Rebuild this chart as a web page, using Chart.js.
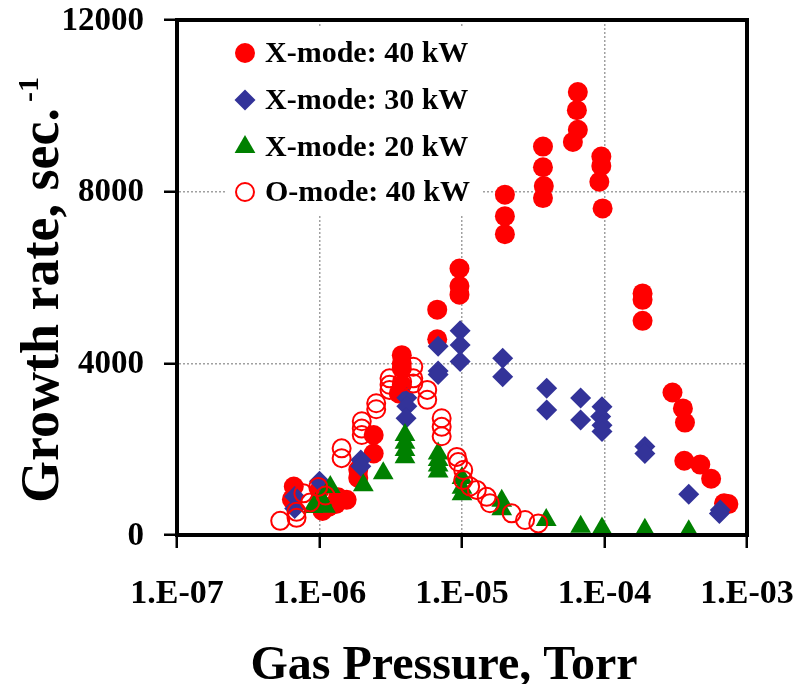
<!DOCTYPE html>
<html>
<head>
<meta charset="utf-8">
<script src="https://cdn.jsdelivr.net/npm/chart.js@4"></script>
<style>
  html, body { margin: 0; padding: 0; background: #fff; }
  #wrap { width: 796px; height: 684px; }
</style>
</head>
<body>
<div id="wrap"><canvas id="growthChart" width="796" height="684"></canvas></div>
<script>
// axis ticks
const xTicks = [1e-7, 1e-6, 1e-5, 1e-4, 1e-3];
const xTickLabels = ['1.E-07', '1.E-06', '1.E-05', '1.E-04', '1.E-03'];
const yTicks = [0, 4000, 8000, 12000];
const yTickLabels = ['0', '4000', '8000', '12000'];

const seriesNames = ['X-mode: 40 kW', 'X-mode: 30 kW', 'X-mode: 20 kW', 'O-mode: 40 kW'];

// X-mode 40 kW
const x40Pressure = [6.6e-7, 6.4e-7, 1.0e-6, 1.05e-6, 1.15e-6, 1.3e-6, 1.35e-6, 1.55e-6, 1.87e-6, 1.87e-6,
  2.4e-6, 2.4e-6, 3.78e-6, 3.78e-6, 3.78e-6, 3.78e-6, 3.6e-6, 6.7e-6, 6.7e-6, 9.6e-6, 9.6e-6, 9.6e-6,
  2.0e-5, 2.0e-5, 2.0e-5, 3.7e-5, 3.7e-5, 3.75e-5, 3.7e-5, 6.5e-5, 6.4e-5, 6.5e-5, 6.0e-5,
  9.5e-5, 9.5e-5, 9.2e-5, 9.7e-5, 1.85e-4, 1.85e-4, 1.85e-4, 3.0e-4, 3.55e-4, 3.67e-4,
  3.63e-4, 4.7e-4, 5.6e-4, 6.9e-4, 7.4e-4];
const x40Rate = [1130, 830, 1050, 560, 650, 720, 880, 820, 1520, 1330,
  2330, 1900, 4190, 4000, 3880, 3500, 3300, 5250, 4560, 6210, 5800, 5600,
  7930, 7430, 7010, 9050, 8570, 8130, 7850, 10320, 9900, 9440, 9160,
  8820, 8600, 8230, 7610, 5630, 5480, 4990, 3320, 2950, 2620,
  1730, 1640, 1310, 740, 720];

// X-mode 30 kW
const x30Pressure = [6.7e-7, 6.7e-7, 1.0e-6, 1.95e-6, 1.95e-6, 4.1e-6, 4.1e-6, 4.05e-6, 6.8e-6, 6.8e-6, 6.8e-6,
  9.7e-6, 9.7e-6, 9.7e-6, 1.93e-5, 1.93e-5, 3.93e-5, 3.93e-5, 6.8e-5, 6.8e-5,
  9.6e-5, 9.4e-5, 9.6e-5, 9.6e-5, 1.92e-4, 1.92e-4, 3.9e-4, 6.5e-4, 6.4e-4];
const x30Rate = [900, 620, 1250, 1750, 1600, 3200, 3000, 2720, 4400, 3820, 3740,
  4760, 4430, 4040, 4120, 3690, 3420, 2910, 3190, 2680,
  2990, 2760, 2560, 2410, 2060, 1900, 950, 580, 500];

// X-mode 20 kW
const x20Pressure = [9.5e-7, 9.0e-7, 1.04e-6, 1.1e-6, 1.19e-6, 2.03e-6, 2.8e-6, 3.98e-6, 3.98e-6, 3.98e-6, 3.98e-6,
  6.8e-6, 6.8e-6, 6.8e-6, 6.8e-6, 1.0e-5, 1.0e-5, 1.0e-5, 1.9e-5, 1.9e-5, 3.9e-5, 6.8e-5, 9.6e-5, 1.92e-4, 3.9e-4];
const x20Rate = [740, 650, 820, 660, 1120, 1160, 1440, 2330, 2150, 1980, 1810,
  1900, 1750, 1620, 1480, 1330, 1100, 950, 800, 600, 350, 190, 150, 120, 90];

// O-mode 40 kW
const o40Pressure = [5.3e-7, 6.9e-7, 6.9e-7, 7.7e-7, 8.6e-7, 9.8e-7, 1.1e-6, 1.43e-6, 1.43e-6,
  1.98e-6, 1.98e-6, 1.98e-6, 2.5e-6, 2.5e-6, 3.1e-6, 3.1e-6, 3.1e-6, 3.8e-6, 4.55e-6, 4.55e-6, 4.55e-6,
  5.7e-6, 5.7e-6, 7.2e-6, 7.2e-6, 7.2e-6, 9.2e-6, 9.4e-6, 1.02e-5, 1.02e-5, 1.14e-5, 1.27e-5,
  1.49e-5, 1.57e-5, 2.23e-5, 2.77e-5, 3.43e-5];
const o40Rate = [330, 540, 400, 970, 760, 1120, 920, 2020, 1790,
  2650, 2480, 2330, 3070, 2930, 3650, 3500, 3380, 3570, 3920, 3650, 3530,
  3380, 3150, 2720, 2520, 2300, 1820, 1700, 1515, 1280, 1130, 1050,
  890, 740, 505, 350, 270];

const RED = '#ff0000';
const BLUE = '#333399';
const GREEN = '#008000';
const FONT = '"Liberation Serif", "Times New Roman", serif';

function toPoints(xs, ys) {
    return xs.map((x, i) => ({ x: x, y: ys[i] }));
}

// marker used in the legend box
function drawMarker(ctx, kind, x, y) {
    ctx.save();
    ctx.beginPath();
    if (kind === 0) {
        ctx.arc(x, y, 10, 0, Math.PI * 2);
        ctx.fillStyle = RED; ctx.fill();
    } else if (kind === 1) {
        const r = 10.5;
        ctx.moveTo(x, y - r); ctx.lineTo(x + r, y); ctx.lineTo(x, y + r); ctx.lineTo(x - r, y); ctx.closePath();
        ctx.fillStyle = BLUE; ctx.fill();
    } else if (kind === 2) {
        const r = 12;
        ctx.moveTo(x, y - r);
        ctx.lineTo(x + r * Math.sin(Math.PI * 2 / 3), y + r * 0.5);
        ctx.lineTo(x - r * Math.sin(Math.PI * 2 / 3), y + r * 0.5);
        ctx.closePath();
        ctx.fillStyle = GREEN; ctx.fill();
    } else {
        ctx.arc(x, y, 9, 0, Math.PI * 2);
        ctx.lineWidth = 2; ctx.strokeStyle = RED; ctx.stroke();
    }
    ctx.restore();
}

function stretchText(ctx, text, x, y, sx, align) {
    ctx.save();
    ctx.translate(x, y);
    ctx.scale(sx, 1);
    ctx.textAlign = align;
    ctx.fillText(text, 0, 0);
    ctx.restore();
}

const textPlugin = {
    id: 'textPlugin',
    beforeDatasetsDraw(chart) {
        const ctx = chart.ctx;
        // legend box inside plot
        ctx.save();
        ctx.fillStyle = '#fff';
        ctx.fillRect(225, 27, 256, 187);
        const ys = [53, 100, 147, 192];
        ctx.fillStyle = '#000';
        ctx.font = 'bold 30px ' + FONT;
        ctx.textBaseline = 'middle';
        seriesNames.forEach((name, i) => {
            drawMarker(ctx, i, 245, ys[i]);
            stretchText(ctx, name, 265, ys[i] + 1, 1, 'left');
        });
        ctx.restore();
    },
    afterDatasetsDraw(chart) {
        const { ctx, chartArea: a } = chart;
        ctx.save();
        ctx.strokeStyle = '#000';
        ctx.lineWidth = 4;
        ctx.strokeRect(a.left, a.top, a.right - a.left, a.bottom - a.top);
        ctx.restore();
    },
    afterDraw(chart) {
        const ctx = chart.ctx;
        const xs = chart.scales.x, ys = chart.scales.y;
        ctx.save();
        ctx.fillStyle = '#000';
        ctx.textBaseline = 'middle';
        ctx.font = 'bold 33px ' + FONT;
        yTicks.forEach((v, i) => {
            stretchText(ctx, yTickLabels[i], 144, ys.getPixelForValue(v) + 1, 1, 'right');
        });
        ctx.font = 'bold 34px ' + FONT;
        xTicks.forEach((v, i) => {
            stretchText(ctx, xTickLabels[i], xs.getPixelForValue(v), 594, 1, 'center');
        });

        // x title
        ctx.textBaseline = 'alphabetic';
        ctx.font = 'bold 48px ' + FONT;
        stretchText(ctx, 'Gas Pressure, Torr', 444, 679, 1, 'center');

        // y title with superscript
        ctx.translate(58, 290);
        ctx.rotate(-Math.PI / 2);
        const main = 'Growth rate, sec.';
        const sup = '-1';
        ctx.font = 'bold 54px ' + FONT;
        const wMain = ctx.measureText(main).width;
        ctx.font = 'bold 30px ' + FONT;
        const wSup = ctx.measureText(sup).width;
        const start = -(wMain + wSup + 6) / 2;
        ctx.textAlign = 'left';
        ctx.font = 'bold 54px ' + FONT;
        ctx.fillText(main, start, 0);
        ctx.font = 'bold 30px ' + FONT;
        ctx.fillText(sup, start + wMain + 6, -20);
        ctx.restore();
    }
};

const gridStyle = {
    color: '#a0a0a0',
    lineWidth: 1.5,
    drawTicks: true,
    tickLength: 13,
    tickColor: '#000',
    tickWidth: 2.5
};

new Chart(document.getElementById('growthChart'), {
    type: 'scatter',
    data: {
        datasets: [
            {
                label: seriesNames[0], data: toPoints(x40Pressure, x40Rate), order: 3,
                pointStyle: 'circle', pointRadius: 10, backgroundColor: RED, borderWidth: 0
            },
            {
                label: seriesNames[1], data: toPoints(x30Pressure, x30Rate), order: 2,
                pointStyle: 'rectRot', pointRadius: 10.5, backgroundColor: BLUE, borderWidth: 0
            },
            {
                label: seriesNames[2], data: toPoints(x20Pressure, x20Rate), order: 1,
                pointStyle: 'triangle', pointRadius: 12, backgroundColor: GREEN, borderWidth: 0
            },
            {
                label: seriesNames[3], data: toPoints(o40Pressure, o40Rate), order: 0,
                pointStyle: 'circle', pointRadius: 9, backgroundColor: 'rgba(0,0,0,0)',
                borderColor: RED, borderWidth: 2
            }
        ]
    },
    options: {
        responsive: false,
        animation: false,
        devicePixelRatio: 1,
        layout: { padding: { top: 20, right: 49, left: 0, bottom: 0 } },
        plugins: {
            legend: { display: false },
            tooltip: { enabled: false }
        },
        scales: {
            x: {
                type: 'logarithmic',
                min: 1e-7,
                max: 1e-3,
                afterBuildTicks: s => { s.ticks = xTicks.map(v => ({ value: v })); },
                afterFit: s => { s.height = 149; },
                ticks: { display: false },
                grid: gridStyle,
                border: { display: true, color: '#000', width: 4, dash: [2, 2] }
            },
            y: {
                min: 0,
                max: 12000,
                afterBuildTicks: s => { s.ticks = yTicks.map(v => ({ value: v })); },
                afterFit: s => { s.width = 177; },
                ticks: { display: false },
                grid: gridStyle,
                border: { display: true, color: '#000', width: 4, dash: [2, 2] }
            }
        }
    },
    plugins: [textPlugin]
});
</script>
</body>
</html>
